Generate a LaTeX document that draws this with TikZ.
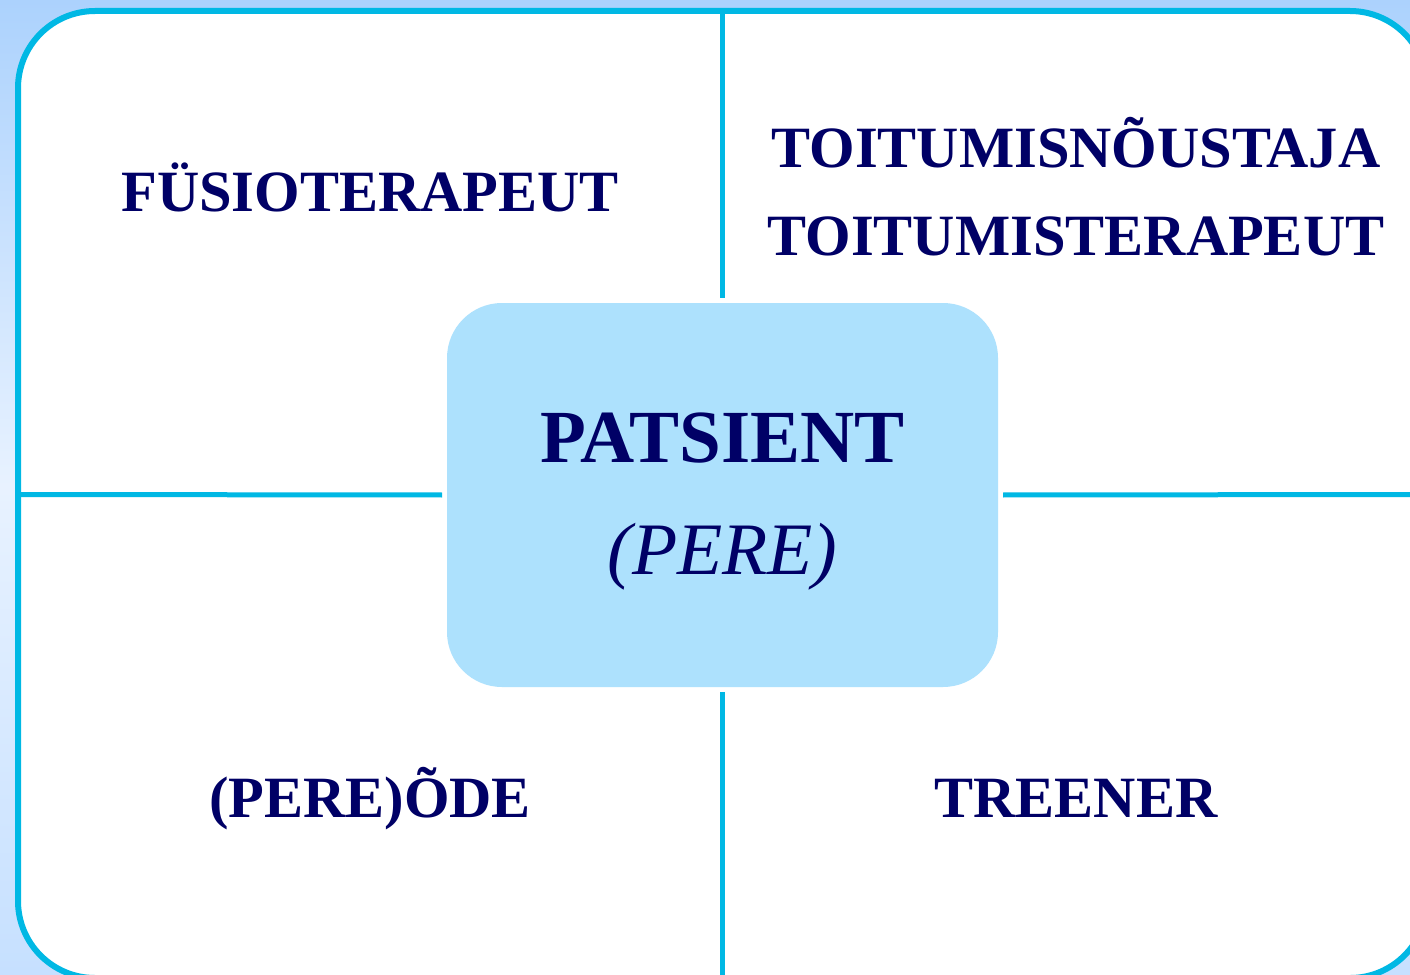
\documentclass[tikz,border=0pt]{standalone}
\usepackage{fontspec}
\setmainfont{Liberation Serif}
\usepackage{tikz}
\usetikzlibrary{positioning}
\definecolor{teamnavy}{RGB}{0,0,102}
\definecolor{teamcyan}{RGB}{0,184,228}
\definecolor{teamfill}{RGB}{173,225,253}
\definecolor{skytop}{RGB}{172,210,253}
\definecolor{skymid}{RGB}{232,242,255}
\definecolor{skybot}{RGB}{198,224,255}

\begin{document}
\begin{tikzpicture}[x=1pt, y=-1pt, inner sep=0pt, outer sep=0pt]
      % styles
      \tikzstyle{frame}=[rectangle,rounded corners=77pt,draw=teamcyan,line width=6pt,
                         fill=white,minimum width=1409pt,minimum height=967pt]
      \tikzstyle{centre}=[rectangle,rounded corners=55pt,fill=teamfill,
                          minimum width=551pt,minimum height=384pt]
      \tikzstyle{role}=[text=teamnavy,font=\fontsize{58.5}{88}\selectfont\bfseries,align=center]
      \tikzstyle{divider}=[draw=teamcyan,line width=5pt]

      % background
      \useasboundingbox (0,0) rectangle (1410,974);
      \shade[top color=skytop,bottom color=skybot,middle color=skymid] (0,0) rectangle (1410,974);

      % nodes
      \node[frame]  (frame)    at (722.5,494.5) {};
      \node[centre] (patsient) at (722.5,495) {};
      \node[text=teamnavy,font=\fontsize{75}{112}\selectfont\bfseries,anchor=base]
            (name) at (722.5,462) {PATSIENT};
      \node[text=teamnavy,font=\fontsize{74}{112}\selectfont\itshape,anchor=base]
            (pere) at (722.5,574) {(PERE)};
      \node[role,anchor=base] (fysio)  at (370,211) {FÜSIOTERAPEUT};
      \node[role,anchor=base] (toitum) at (1076,255) {TOITUMISNÕUSTAJA\\TOITUMISTERAPEUT};
      \node[role,anchor=base] (ode)    at (370,817) {(PERE)ÕDE};
      \node[role,anchor=base] (treener) at (1076,817) {TREENER};

      % dividers
      \draw[divider,shorten >=5pt] (frame.north) -- (patsient.north);
      \draw[divider,shorten >=5pt] (frame.south) -- (patsient.south);
      \draw[divider,shorten >=5pt] (frame.west)  -- (patsient.west);
      \draw[divider,shorten >=5pt] (frame.east)  -- (patsient.east);
    \end{tikzpicture}
\end{document}
